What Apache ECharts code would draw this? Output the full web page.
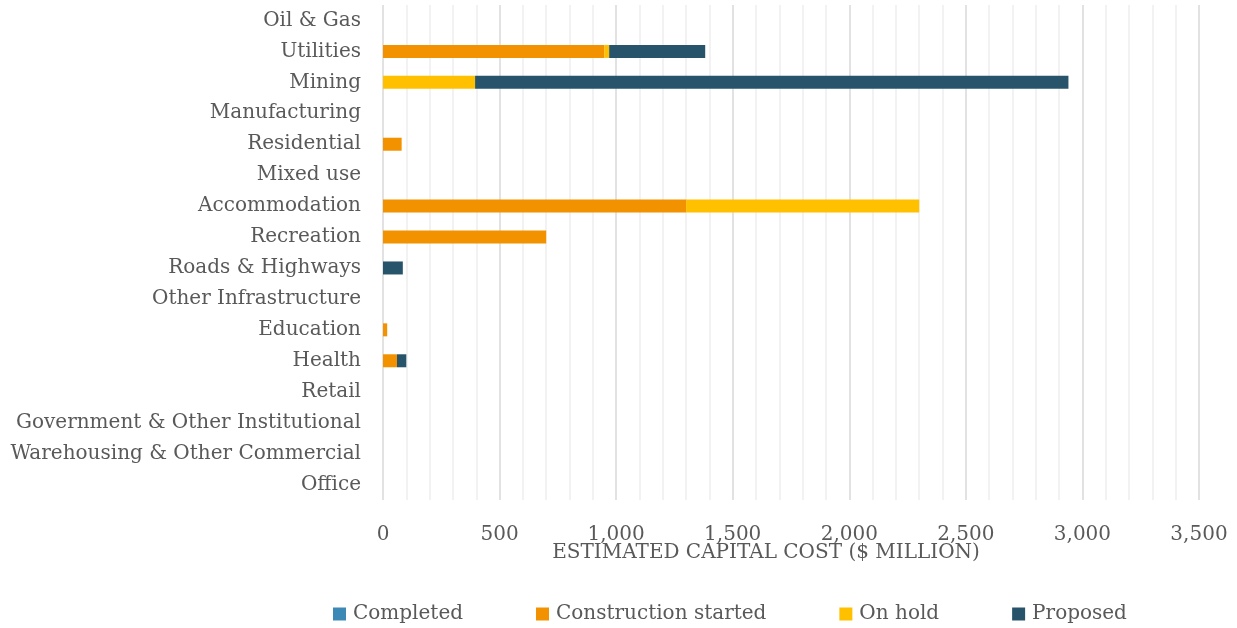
<!DOCTYPE html>
<html>
<head>
<meta charset="utf-8">
<script src="https://cdn.jsdelivr.net/npm/echarts@6/dist/echarts.min.js"></script>
<style>
html,body{margin:0;padding:0;background:#fff;}
#chart{width:1237px;height:628px;}
</style>
</head>
<body>
<div id="chart"></div>
<script>
// categories listed top to bottom (yAxis is inverted)
var categories = ['Oil & Gas','Utilities','Mining','Manufacturing','Residential','Mixed use',
    'Accommodation','Recreation','Roads & Highways','Other Infrastructure','Education','Health',
    'Retail','Government & Other Institutional','Warehousing & Other Commercial','Office'];

var completed           = [0,   0,    0, 0,  0, 0,    0,   0,  0, 0,  0,  0, 0, 0, 0, 0];
var constructionStarted = [0, 950,    0, 0, 80, 0, 1300, 700,  0, 0, 18, 60, 0, 0, 0, 0];
var onHold              = [0,  20,  395, 0,  0, 0, 1000,   0,  0, 0,  0,  0, 0, 0, 0, 0];
var proposed            = [0, 412, 2545, 0,  0, 0,    0,   0, 85, 0,  0, 40, 0, 0, 0, 0];

var seriesNames = ['Completed','Construction started','On hold','Proposed'];
var seriesColors = ['#3d89b6','#f39200','#ffc000','#27546b'];
var seriesData = [completed, constructionStarted, onHold, proposed];

var textColor = '#595959';
var fontFamily = '"DejaVu Serif", serif';

var chart = echarts.init(document.getElementById('chart'));

function fmtThousands(v){
    return String(v).replace(/\B(?=(\d{3})+(?!\d))/g, ',');
}

var series = [];
for (var i = 0; i < seriesNames.length; i++) {
    series.push({
        name: seriesNames[i],
        type: 'bar',
        stack: 'total',
        barWidth: 13,
        itemStyle: {color: seriesColors[i]},
        data: seriesData[i]
    });
}

chart.setOption({
    animation: false,
    textStyle: {fontFamily: fontFamily, color: textColor},
    title: {
        text: 'ESTIMATED CAPITAL COST ($ MILLION)',
        left: 761,
        top: 538,
        textAlign: 'center',
        textStyle: {fontFamily: fontFamily, color: textColor, fontSize: 20, fontWeight: 'normal'}
    },
    legend: {
        left: 333,
        top: 604,
        padding: 0,
        itemWidth: 13,
        itemHeight: 13,
        itemGap: 73,
        icon: 'rect',
        textStyle: {fontFamily: fontFamily, color: textColor, fontSize: 20, padding: [0, 0, 0, 2]},
        data: seriesNames
    },
    grid: {left: 383, right: 38, top: 5, bottom: 128},
    xAxis: {
        type: 'value',
        min: 0,
        max: 3500,
        interval: 500,
        axisLine: {show: false},
        axisTick: {show: false},
        axisLabel: {
            color: textColor, fontSize: 20, fontFamily: fontFamily, margin: 25,
            formatter: function(v){ return fmtThousands(v); }
        },
        splitLine: {show: true, lineStyle: {color: '#d9d9d9', width: 1.5}},
        minorTick: {show: false, splitNumber: 5},
        minorSplitLine: {show: true, lineStyle: {color: '#eeeeee', width: 1.5}}
    },
    yAxis: {
        type: 'category',
        inverse: true,
        data: categories,
        axisLine: {show: false},
        axisTick: {show: false},
        axisLabel: {color: textColor, fontSize: 20, fontFamily: fontFamily, margin: 22}
    },
    series: series
});
</script>
</body>
</html>
